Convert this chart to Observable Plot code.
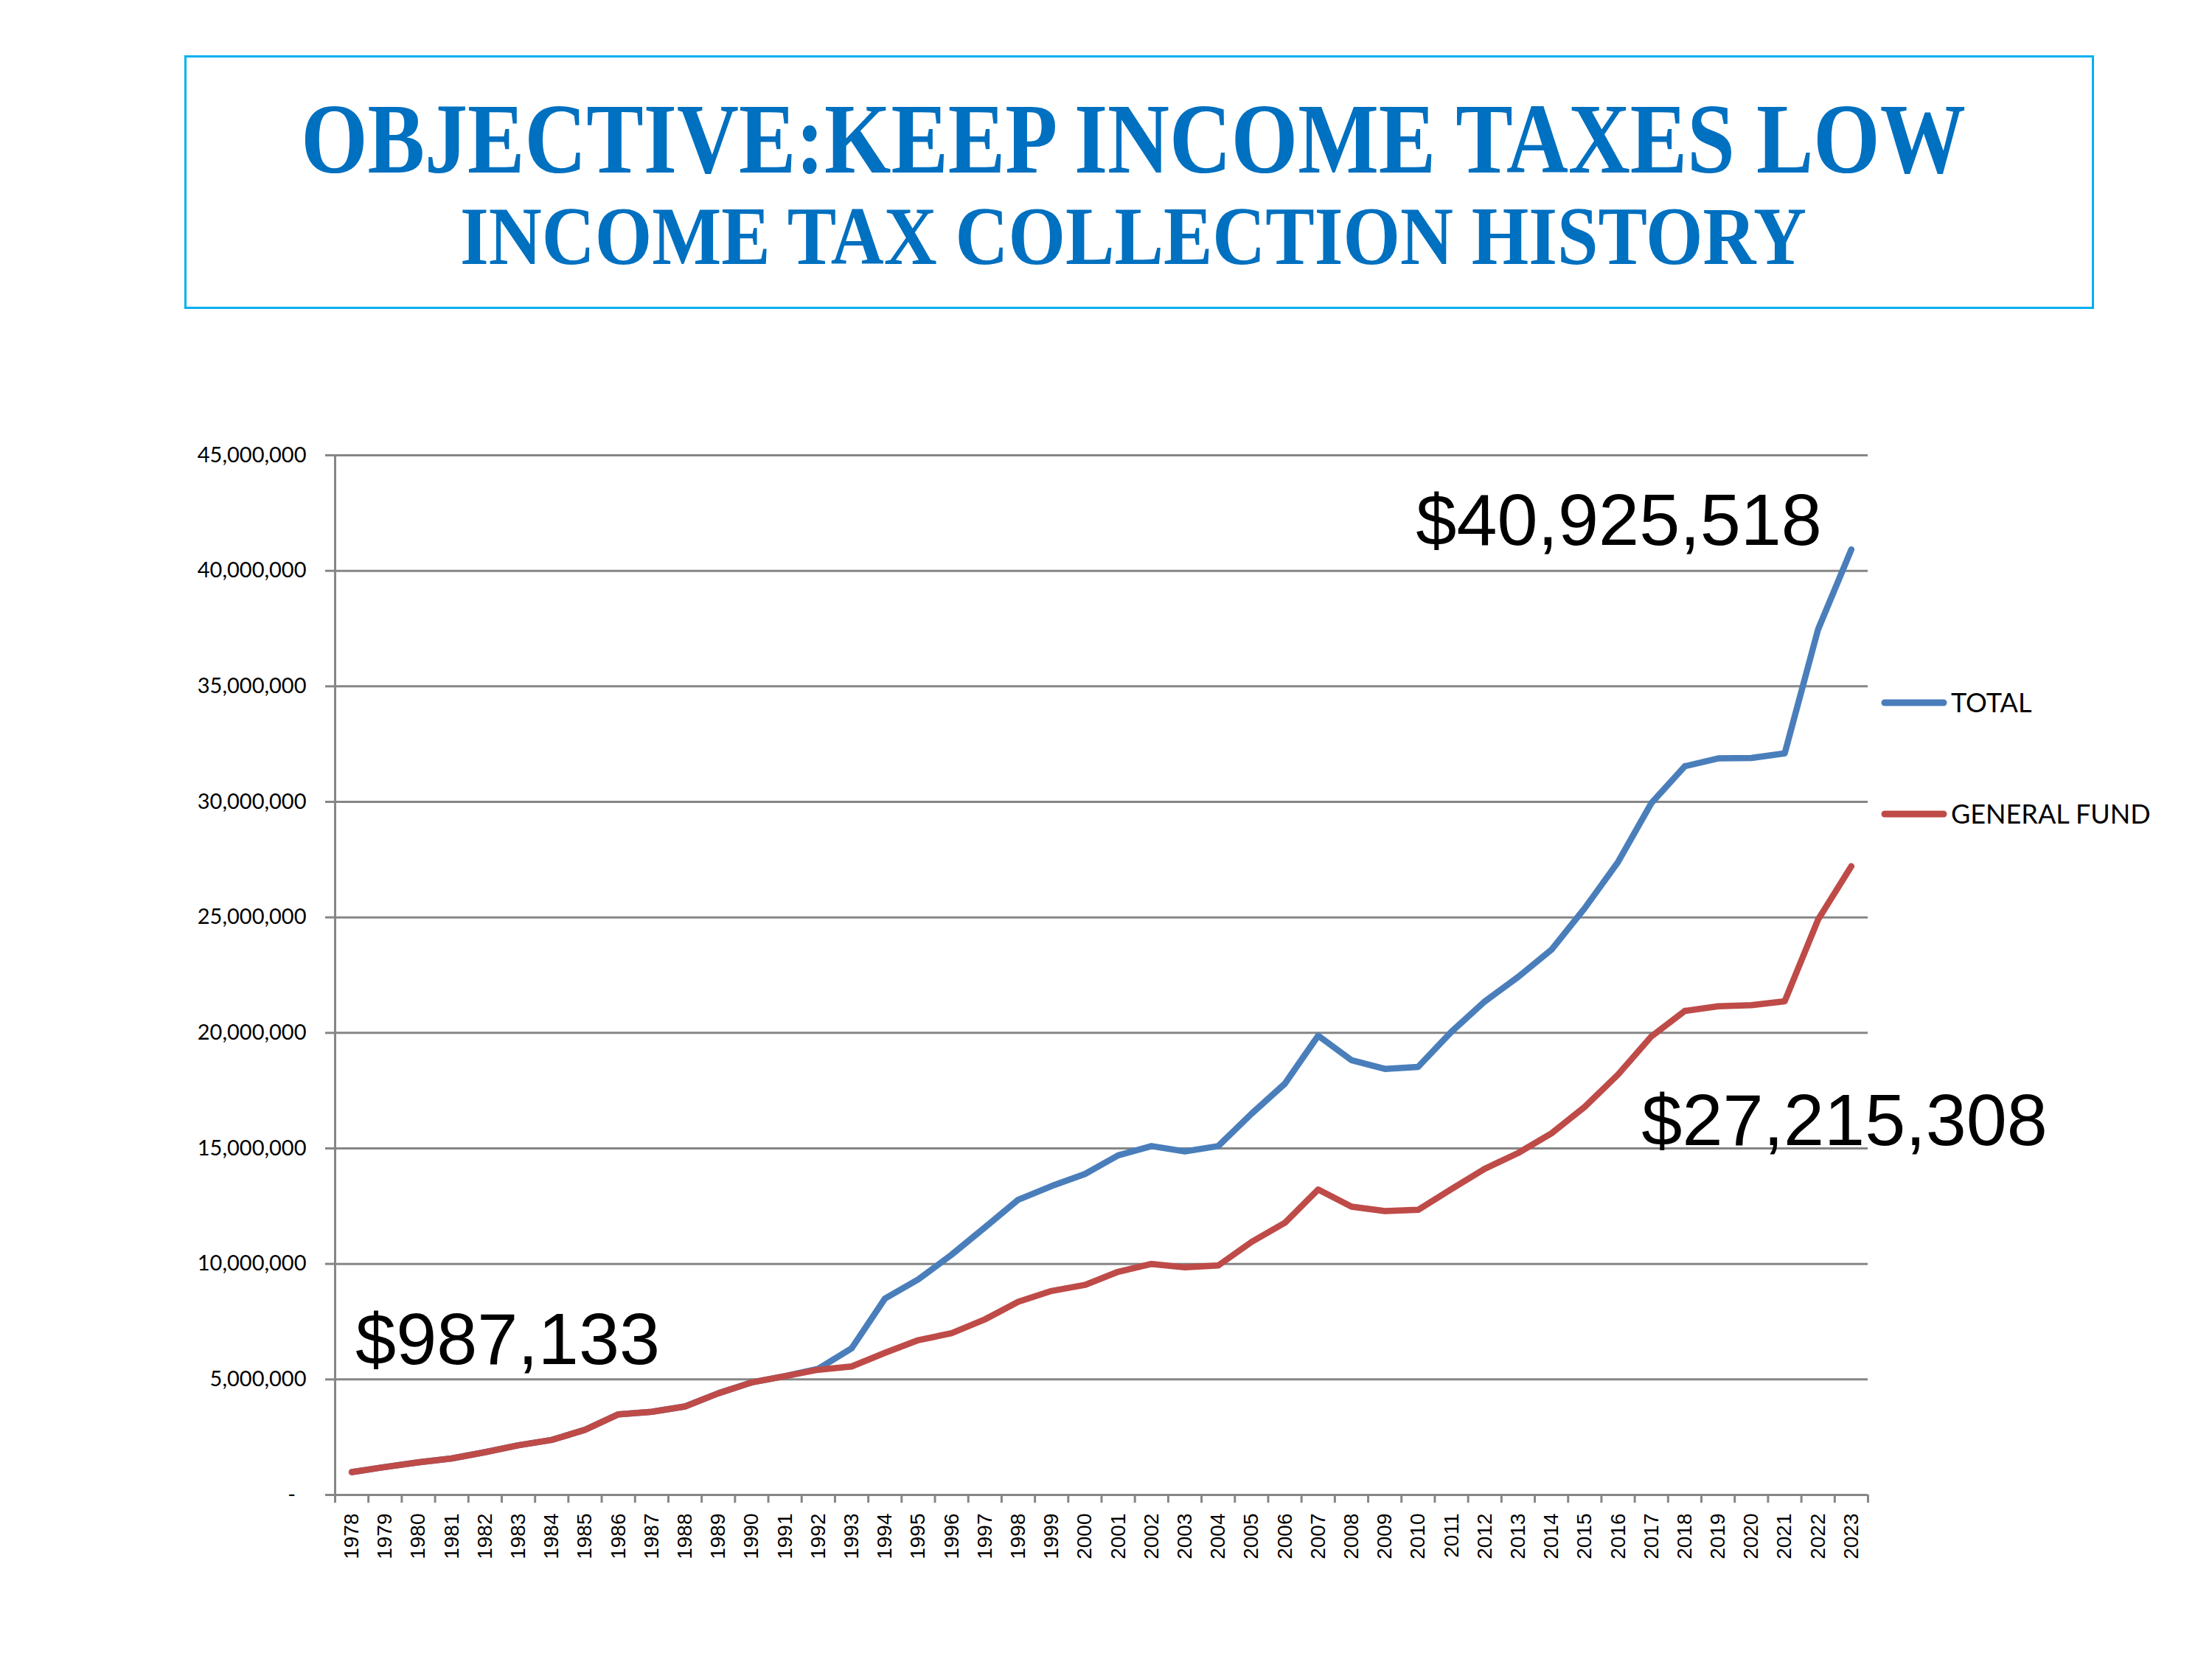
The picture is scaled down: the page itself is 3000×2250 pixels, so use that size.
<!DOCTYPE html>
<html>
<head>
<meta charset="utf-8">
<script src="https://cdn.jsdelivr.net/npm/d3@7"></script>
<script src="https://cdn.jsdelivr.net/npm/@observablehq/plot@0.6"></script>
<style>
  html, body { margin: 0; padding: 0; background: #fff; width: 3000px; height: 2250px; overflow: hidden; }
  #page { position: relative; width: 3000px; height: 2250px; }
  #title { position: absolute; left: 0; top: 0; }
  #chart { position: absolute; left: 0; top: 520px; }
  #legend { position: absolute; left: 0; top: 0; pointer-events: none; }
</style>
</head>
<body>
<div id="page">
  <svg id="title" width="3000" height="520" xmlns="http://www.w3.org/2000/svg">
    <rect x="251.5" y="76.5" width="2587" height="341" fill="none" stroke="#00B0F0" stroke-width="3"/>
    <text id="t1" x="0" y="0" text-anchor="middle" font-family="Liberation Serif, Times New Roman, serif" font-weight="bold" font-size="136" fill="#0070C0" transform="translate(1537,234)">OBJECTIVE:KEEP INCOME TAXES LOW</text>
    <text id="t2" x="0" y="0" text-anchor="middle" font-family="Liberation Serif, Times New Roman, serif" font-weight="bold" font-size="113" fill="#0070C0" transform="translate(1537,358)">INCOME TAX COLLECTION HISTORY</text>
  </svg>
  <div id="chart"></div>
  <svg id="legend" width="3000" height="2250" xmlns="http://www.w3.org/2000/svg"></svg>
</div>
<script>
// ---- data ----
const years = d3.range(1978, 2024);
const total = [
  987133, 1210000, 1410000, 1580000, 1850000, 2150000, 2380000, 2820000, 3490000, 3600000,
  3830000, 4400000, 4870000, 5140000, 5460000, 6350000, 8500000, 9330000, 10400000, 11580000,
  12780000, 13370000, 13890000, 14700000, 15100000, 14870000, 15100000, 16500000, 17800000, 19880000,
  18820000, 18440000, 18530000, 20050000, 21360000, 22420000, 23600000, 25400000, 27400000, 29950000,
  31540000, 31880000, 31900000, 32100000, 37460000, 40925518
];
const general = [
  987133, 1210000, 1410000, 1580000, 1850000, 2150000, 2380000, 2820000, 3490000, 3600000,
  3830000, 4400000, 4870000, 5140000, 5420000, 5560000, 6150000, 6700000, 7000000, 7600000,
  8360000, 8830000, 9090000, 9660000, 10000000, 9850000, 9930000, 10950000, 11780000, 13220000,
  12480000, 12290000, 12340000, 13240000, 14120000, 14800000, 15650000, 16800000, 18200000, 19850000,
  20950000, 21150000, 21200000, 21370000, 24900000, 27215308
];
const yTicks = [0, 5000000, 10000000, 15000000, 20000000, 25000000, 30000000, 35000000, 40000000, 45000000];
const seriesNames = ["TOTAL", "GENERAL FUND"];
const seriesColors = ["#4A7EBB", "#BE4B48"];
const callouts = ["$40,925,518", "$27,215,308", "$987,133"];

// ---- title: compress horizontally to the reference widths ----
[["t1", 1537, 234, 2258], ["t2", 1537, 358, 1826]].forEach(([id, cx, cy, w]) => {
  const el = document.getElementById(id);
  const natural = el.getComputedTextLength();
  const s = natural > 0 ? w / natural : 1;
  el.setAttribute("transform", `translate(${cx},${cy}) scale(${s},1)`);
});

// ---- derived tables ----
const rows = years.map((yr, i) => ({year: yr, total: total[i], general: general[i]}));
const bounds = years.map(y => y - 0.5).concat([years[years.length - 1] + 0.5]);
const last = rows.length - 1;
const fmt = d3.format(",");

const chart = Plot.plot({
  width: 3000,
  height: 1730,
  marginTop: 97,
  marginBottom: 223,
  marginLeft: 454,
  marginRight: 467,
  style: {background: "transparent", overflow: "visible"},
  x: {type: "linear", domain: [bounds[0], bounds[bounds.length - 1]], label: null},
  y: {domain: [0, 45000000], label: null},
  marks: [
    Plot.gridY(yTicks, {stroke: "#868686", strokeOpacity: 1, strokeWidth: 3}),
    Plot.axisY(yTicks, {
      label: null,
      tickSize: 13, tickPadding: 26, stroke: "#868686", strokeWidth: 3,
      fill: "#000", fontSize: 29, fontFamily: "Lato, Carlito, sans-serif",
      tickFormat: d => d === 0 ? "-\u2002" : fmt(d)
    }),
    Plot.axisX(years, {
      label: null,
      tickSize: 0, tickPadding: 25, tickRotate: -90,
      fill: "#000", fontSize: 28, fontFamily: "Liberation Sans, Arial, sans-serif",
      tickFormat: d => String(d)
    }),
    Plot.axisX(bounds, {label: null, tickSize: 11, stroke: "#868686", strokeWidth: 3, tickFormat: () => ""}),
    Plot.frame({anchor: "left", stroke: "#868686", strokeWidth: 3}),
    Plot.ruleY([0], {stroke: "#868686", strokeWidth: 3}),
    Plot.line(rows, {x: "year", y: "total", stroke: seriesColors[0], strokeWidth: 8.5, strokeLinejoin: "round", strokeLinecap: "round"}),
    Plot.line(rows, {x: "year", y: "general", stroke: seriesColors[1], strokeWidth: 8.5, strokeLinejoin: "round", strokeLinecap: "round"}),
    Plot.text([rows[last]], {x: "year", y: "total", text: () => callouts[0], textAnchor: "end", lineAnchor: "bottom", dx: -40, dy: -6,
      fontSize: 99, fontFamily: "Liberation Sans, Arial, sans-serif", fill: "#000"}),
    Plot.text([rows[last]], {x: "year", y: "general", text: () => callouts[1], textAnchor: "end", lineAnchor: "bottom", dx: 266, dy: 378,
      fontSize: 99, fontFamily: "Liberation Sans, Arial, sans-serif", fill: "#000"}),
    Plot.text([rows[0]], {x: "year", y: "general", text: () => callouts[2], textAnchor: "start", lineAnchor: "bottom", dx: 5, dy: -147,
      fontSize: 99, fontFamily: "Liberation Sans, Arial, sans-serif", fill: "#000"})
  ]
});
document.getElementById("chart").appendChild(chart);

// ---- legend ----
const leg = d3.select("#legend");
const legY = [953, 1104];
seriesNames.forEach((name, i) => {
  leg.append("line").attr("x1", 2556).attr("x2", 2636).attr("y1", legY[i]).attr("y2", legY[i])
    .attr("stroke", seriesColors[i]).attr("stroke-width", 9).attr("stroke-linecap", "round");
  leg.append("text").attr("x", 2646).attr("y", legY[i] + 13)
    .attr("font-family", "Lato, Carlito, sans-serif").attr("font-size", 36).attr("fill", "#000")
    .text(name);
});
</script>
</body>
</html>
